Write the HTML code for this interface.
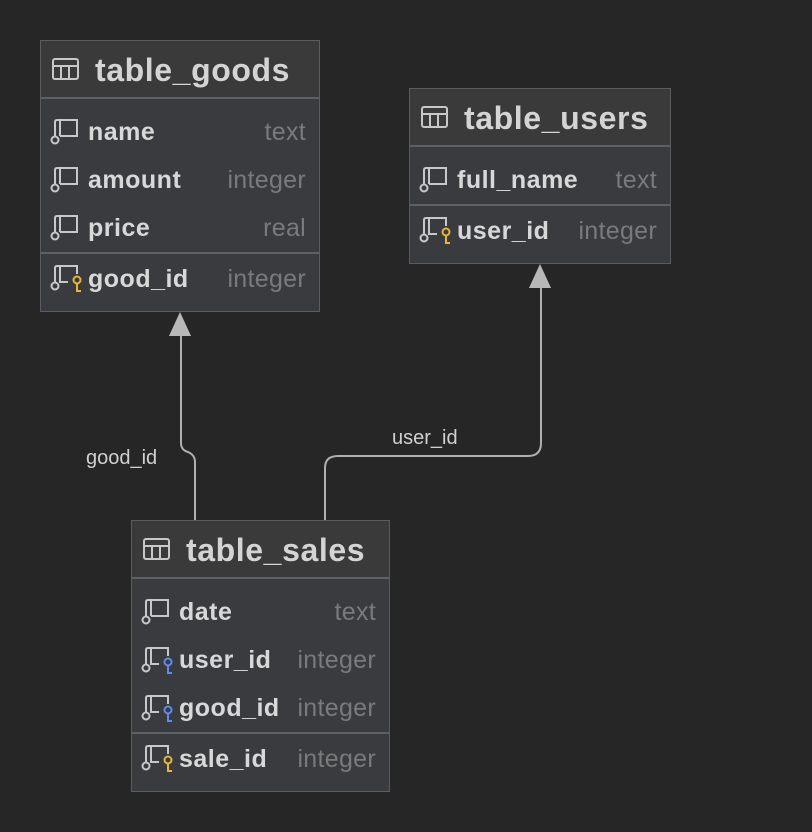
<!DOCTYPE html>
<html><head><style>
body{margin:0;width:812px;height:832px;background:#262626;position:relative;overflow:hidden;font-family:"Liberation Sans",sans-serif}
.t{position:absolute;background:#393b3e;border:1px solid #5a5d60;box-sizing:border-box}
.h{height:58px;background:#3a3a3a;border-bottom:2px solid #5e6164;box-sizing:border-box;color:#d4d4d4;font-size:32px;letter-spacing:0.6px;font-weight:bold;display:flex;align-items:center;padding-left:54px;padding-top:2px;position:relative;margin-bottom:9px}
.h svg{position:absolute;left:11px;top:17px}
.r{position:relative;height:48px;color:#d8d8d8;font-size:25px;letter-spacing:0.5px;font-weight:bold;display:flex;align-items:center;padding-left:47px;padding-top:1px;box-sizing:border-box}
.r span{position:absolute;right:13px;color:#7a7a7a;font-weight:normal;letter-spacing:0.3px}
.r svg{position:absolute;left:9px;top:10px}
.s{border-top:2px solid #5e6164}
.lbl{position:absolute;color:#d0d0d0;font-size:20px}
</style></head><body>
<svg width="812" height="832" style="position:absolute;left:0;top:0">
<path d="M195 520 V462 Q195 455 188 452 Q181 450 181 443 V336" stroke="#b0b0b0" stroke-width="2" fill="none"/>
<polygon points="180,312 169,336 191,336" fill="#b8b8b8"/>
<path d="M325 520 V468 Q325 456 338 456 H528 Q541 456 541 443 V288" stroke="#b0b0b0" stroke-width="2" fill="none"/>
<polygon points="540,264 529,288 551,288" fill="#b8b8b8"/>
</svg>
<div class="lbl" style="left:86px;top:447px">good_id</div>
<div class="lbl" style="left:392px;top:427px">user_id</div>

<svg width="0" height="0" style="position:absolute"><defs>
<g id="tb"><rect x="1" y="1" width="25" height="20" rx="2" fill="none" stroke="#c8c8c8" stroke-width="2"/><path d="M1 8H26M9 8V21M17 8V21" stroke="#c8c8c8" stroke-width="2"/></g>
<g id="col"><path d="M5 19V4Q5 2 7 2H27V18H10" fill="none" stroke="#c8c8c8" stroke-width="2"/><path d="M10 2V18" stroke="#c8c8c8" stroke-width="2"/><circle cx="5" cy="22" r="3.5" fill="none" stroke="#c8c8c8" stroke-width="2"/></g>
<g id="pk"><path d="M5 19V4Q5 2 7 2H27V10M10 2V18H18" fill="none" stroke="#c8c8c8" stroke-width="2"/><circle cx="5" cy="22" r="3.5" fill="none" stroke="#c8c8c8" stroke-width="2"/><circle cx="27" cy="16" r="3.5" fill="none" stroke="#e5b53c" stroke-width="2"/><path d="M27 20V27H31" fill="none" stroke="#e5b53c" stroke-width="2"/></g>
<g id="fk"><path d="M5 19V4Q5 2 7 2H27V10M10 2V18H18" fill="none" stroke="#c8c8c8" stroke-width="2"/><circle cx="5" cy="22" r="3.5" fill="none" stroke="#c8c8c8" stroke-width="2"/><circle cx="27" cy="16" r="3.5" fill="none" stroke="#5b8ee6" stroke-width="2"/><path d="M27 20V27H31" fill="none" stroke="#5b8ee6" stroke-width="2"/></g>
</defs></svg>

<div class="t" style="left:40px;top:40px;width:280px;height:272px">
<div class="h"><svg width="28" height="22"><use href="#tb"/></svg>table_goods</div>
<div class="r"><svg width="34" height="30"><use href="#col"/></svg>name<span>text</span></div>
<div class="r"><svg width="34" height="30"><use href="#col"/></svg>amount<span>integer</span></div>
<div class="r"><svg width="34" height="30"><use href="#col"/></svg>price<span>real</span></div>
<div class="r s" style="height:52px"><svg width="34" height="30"><use href="#pk"/></svg>good_id<span>integer</span></div>
</div>

<div class="t" style="left:409px;top:88px;width:262px;height:176px">
<div class="h"><svg width="28" height="22"><use href="#tb"/></svg>table_users</div>
<div class="r"><svg width="34" height="30"><use href="#col"/></svg>full_name<span>text</span></div>
<div class="r s" style="height:52px"><svg width="34" height="30"><use href="#pk"/></svg>user_id<span>integer</span></div>
</div>

<div class="t" style="left:131px;top:520px;width:259px;height:272px">
<div class="h"><svg width="28" height="22"><use href="#tb"/></svg>table_sales</div>
<div class="r"><svg width="34" height="30"><use href="#col"/></svg>date<span>text</span></div>
<div class="r"><svg width="34" height="30"><use href="#fk"/></svg>user_id<span>integer</span></div>
<div class="r"><svg width="34" height="30"><use href="#fk"/></svg>good_id<span>integer</span></div>
<div class="r s" style="height:52px"><svg width="34" height="30"><use href="#pk"/></svg>sale_id<span>integer</span></div>
</div>
</body></html>
